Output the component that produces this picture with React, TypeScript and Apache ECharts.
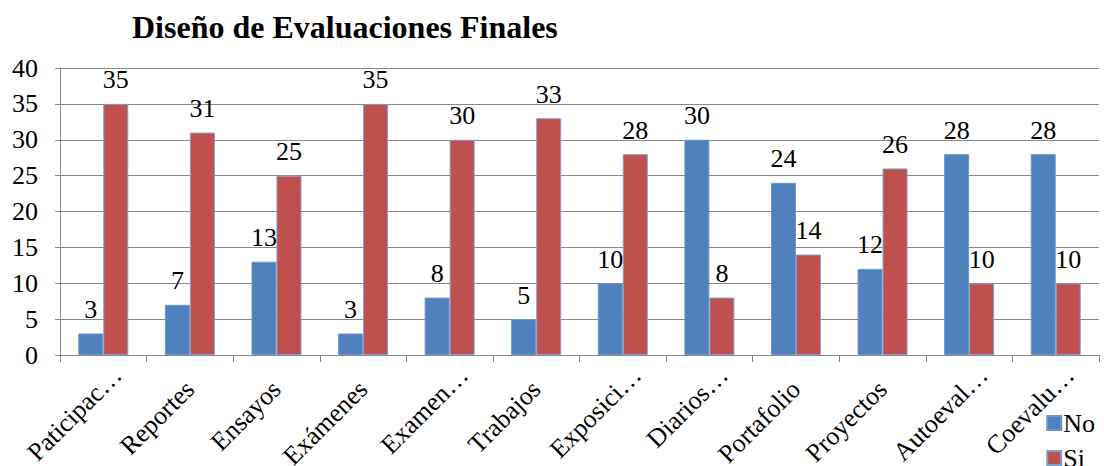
import React, { useEffect, useRef } from "react";
import * as echarts from "echarts";

const categories = [
  "Paticipac…",
  "Reportes",
  "Ensayos",
  "Exámenes",
  "Examen…",
  "Trabajos",
  "Exposici…",
  "Diarios…",
  "Portafolio",
  "Proyectos",
  "Autoeval…",
  "Coevalu…",
];
const noValues = [3, 7, 13, 3, 8, 5, 10, 30, 24, 12, 28, 28];
const siValues = [35, 31, 25, 35, 30, 33, 28, 8, 14, 26, 10, 10];

const FONT = "Liberation Serif";

export default function App() {
  const ref = useRef<HTMLDivElement>(null);
  useEffect(() => {
    if (!ref.current) return;
    const chart = echarts.init(ref.current, null, { renderer: "svg" });
    const categoryItems = categories.map((c) =>
      c.endsWith("…") ? { value: c, textStyle: { padding: [0, -20, 0, 0] } } : c
    );
    chart.setOption({
      animation: false,
      title: {
        text: "Diseño de Evaluaciones Finales",
        left: 127,
        top: 6,
        textStyle: { fontFamily: FONT, fontSize: 32, fontWeight: "bold", color: "#000" },
      },
      legend: {
        orient: "vertical",
        right: 9,
        top: 410,
        height: 80,
        padding: 0,
        itemWidth: 14,
        itemHeight: 14,
        itemGap: 9,
        icon: "rect",
        textStyle: { fontFamily: FONT, fontSize: 26, color: "#000", padding: [0, 0, 0, -3] },
        data: ["No", "Si"],
      },
      grid: { left: 60, right: 5, top: 68, bottom: 111, containLabel: false, outerBoundsMode: "none" },
      xAxis: {
        type: "category",
        data: categoryItems,
        axisLine: { lineStyle: { color: "#888", width: 1 } },
        axisTick: { show: true, length: 7, lineStyle: { color: "#888" } },
        axisLabel: {
          rotate: 45,
          interval: 0,
          fontFamily: FONT,
          fontSize: 26,
          color: "#000",
          margin: 30,
        },
      },
      yAxis: {
        type: "value",
        min: 0,
        max: 40,
        interval: 5,
        axisLine: { show: true, lineStyle: { color: "#888" } },
        axisTick: { show: true, length: 5, lineStyle: { color: "#888" } },
        splitLine: { lineStyle: { color: "#888", width: 1 } },
        axisLabel: {
          fontFamily: FONT,
          fontSize: 26,
          color: "#000",
          margin: 22,
          padding: [6, 0, 0, 0],
        },
      },
      series: [
        {
          name: "No",
          type: "bar",
          data: noValues,
          barWidth: 25,
          barGap: "0%",
          itemStyle: { color: "#4F81BD", borderColor: "#6D97C9", borderWidth: 1 },
          label: { show: true, position: "top", fontFamily: FONT, fontSize: 26, color: "#000", distance: 11 },
        },
        {
          name: "Si",
          type: "bar",
          data: siValues,
          barWidth: 25,
          barGap: "0%",
          itemStyle: { color: "#C0504D", borderColor: "#7E9FD0", borderWidth: 1 },
          label: { show: true, position: "top", fontFamily: FONT, fontSize: 26, color: "#000", distance: 11 },
        },
      ],
    });
    return () => chart.dispose();
  }, []);
  return <div ref={ref} style={{ width: 1104, height: 466, position: "absolute", left: 0, top: 0 }} />;
}
